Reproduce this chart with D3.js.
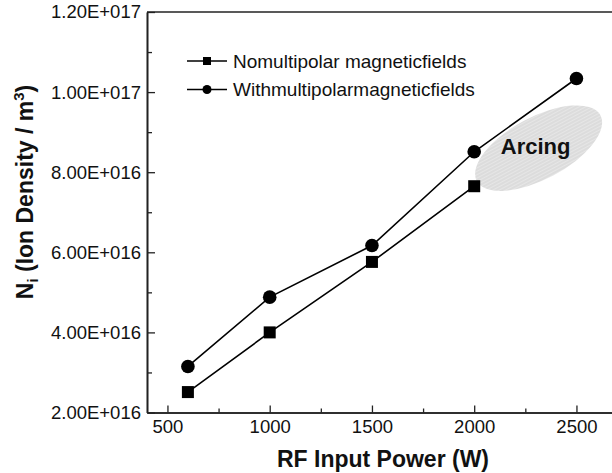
<!DOCTYPE html>
<html>
<head>
<meta charset="utf-8">
<script src="https://cdn.jsdelivr.net/npm/d3@7"></script>
<style>
  html, body { margin: 0; padding: 0; background: #fff; }
  svg { display: block; font-family: "Liberation Sans", Arial, Helvetica, sans-serif; }
</style>
</head>
<body>
<div id="chart"></div>
<script>
// data
const power = [600, 1000, 1500, 2000, 2500];
const noMultipolar = [2.51e16, 4.0e16, 5.76e16, 7.65e16];
const withMultipolar = [3.15e16, 4.88e16, 6.17e16, 8.51e16, 1.034e17];
const seriesNames = ['Nomultipolar magneticfields', 'Withmultipolarmagneticfields'];
const xTicks = [500, 1000, 1500, 2000, 2500];
const xMinor = [750, 1250, 1750, 2250];
const yTicks = [2e16, 4e16, 6e16, 8e16, 1e17, 1.2e17];
const yTickLabels = ['2.00E+016', '4.00E+016', '6.00E+016', '8.00E+016', '1.00E+017', '1.20E+017'];
const yMinor = [3e16, 5e16, 7e16, 9e16, 1.1e17];

const width = 612, height = 473;
const plot = {left: 147, top: 12, bottom: 412.5};

const svg = d3.select('#chart').append('svg')
  .attr('width', width)
  .attr('height', height);

const x = d3.scaleLinear().domain([400, 2700]).range([plot.left, plot.left + 2300 * 0.2045]);
const y = d3.scaleLinear().domain([2e16, 1.2e17]).range([plot.bottom, plot.top]);

// stripe pattern for the arcing region
const pat = svg.append('defs').append('pattern')
  .attr('id', 'stripes')
  .attr('patternUnits', 'userSpaceOnUse')
  .attr('width', 4).attr('height', 3);
pat.append('rect').attr('width', 4).attr('height', 3).attr('fill', '#dcdcdc');
pat.append('rect').attr('width', 4).attr('height', 1).attr('fill', '#e6e6e6');

// arcing ellipse, placed in data space
const ex = x(2315), ey = y(8.6e16);
svg.append('ellipse')
  .attr('cx', 0).attr('cy', 0)
  .attr('rx', 70).attr('ry', 31)
  .attr('transform', `translate(${ex},${ey}) rotate(-28)`)
  .attr('fill', 'url(#stripes)');

svg.append('text')
  .attr('x', ex - 3).attr('y', ey + 6)
  .attr('text-anchor', 'middle')
  .attr('font-weight', 'bold')
  .attr('font-size', 22)
  .attr('fill', '#111')
  .text('Arcing');

// axes
svg.append('g')
  .attr('transform', `translate(0,${plot.bottom})`)
  .call(d3.axisBottom(x).tickValues(xTicks).tickSizeInner(-7).tickSizeOuter(0).tickPadding(7)
    .tickFormat(d3.format('d')));
svg.append('g')
  .attr('transform', `translate(0,${plot.bottom})`)
  .call(d3.axisBottom(x).tickValues(xMinor).tickSizeInner(-4).tickSizeOuter(0).tickFormat(''));

svg.append('g')
  .attr('transform', `translate(${plot.left},0)`)
  .call(d3.axisLeft(y).tickValues(yTicks).tickSizeInner(-8).tickSizeOuter(0).tickPadding(6)
    .tickFormat((d, i) => yTickLabels[i]));
svg.append('g')
  .attr('transform', `translate(${plot.left},0)`)
  .call(d3.axisLeft(y).tickValues(yMinor).tickSizeInner(-5).tickSizeOuter(0).tickFormat(''));

svg.selectAll('.domain').attr('stroke', '#222').attr('stroke-width', 1.6);
svg.selectAll('.tick line').attr('stroke', '#222').attr('stroke-width', 1.3);
svg.selectAll('.tick text').attr('font-size', 18.5).attr('fill', '#111')
  .attr('font-family', '"Liberation Sans", Arial, sans-serif');

// top frame line
svg.append('line')
  .attr('x1', plot.left).attr('x2', width)
  .attr('y1', plot.top).attr('y2', plot.top)
  .attr('stroke', '#222').attr('stroke-width', 1.6);

// series lines
const line = d3.line().x(d => x(d[0])).y(d => y(d[1]));
const sq = d3.zip(power.slice(0, noMultipolar.length), noMultipolar);
const ci = d3.zip(power, withMultipolar);

svg.append('path').datum(sq).attr('d', line)
  .attr('fill', 'none').attr('stroke', '#000').attr('stroke-width', 1.6);
svg.append('path').datum(ci).attr('d', line)
  .attr('fill', 'none').attr('stroke', '#000').attr('stroke-width', 1.6);

svg.selectAll('.sq').data(sq).enter().append('rect')
  .attr('x', d => x(d[0]) - 6).attr('y', d => y(d[1]) - 6)
  .attr('width', 12).attr('height', 12).attr('fill', '#000');
svg.selectAll('.ci').data(ci).enter().append('circle')
  .attr('cx', d => x(d[0])).attr('cy', d => y(d[1]))
  .attr('r', 6.8).attr('fill', '#000');

// legend
const legend = svg.append('g').attr('transform', 'translate(187,61)');
seriesNames.forEach((name, i) => {
  const row = legend.append('g').attr('transform', `translate(0,${i * 28.5})`);
  row.append('line').attr('x1', 0).attr('x2', 40).attr('stroke', '#000').attr('stroke-width', 1.6);
  if (i === 0) {
    row.append('rect').attr('x', 16).attr('y', -4).attr('width', 8).attr('height', 8).attr('fill', '#000');
  } else {
    row.append('circle').attr('cx', 20).attr('r', 4.5).attr('fill', '#000');
  }
  row.append('text').attr('x', 46).attr('dy', '0.35em')
    .attr('font-size', 19).attr('fill', '#111').text(name);
});

// axis titles
svg.append('text')
  .attr('x', 383).attr('y', 467)
  .attr('text-anchor', 'middle')
  .attr('font-weight', 'bold').attr('font-size', 23)
  .attr('fill', '#111')
  .text('RF Input Power (W)');

const yt = svg.append('text')
  .attr('transform', 'translate(33,192) rotate(-90)')
  .attr('text-anchor', 'middle')
  .attr('font-weight', 'bold').attr('font-size', 23)
  .attr('fill', '#111');
yt.append('tspan').text('N');
yt.append('tspan').attr('font-size', 15).attr('dy', 5).text('i');
yt.append('tspan').attr('dy', -5).text(' (Ion Density / m');
yt.append('tspan').attr('font-size', 15).attr('dy', -9).text('3');
yt.append('tspan').attr('dy', 9).text(')');
</script>
</body>
</html>
